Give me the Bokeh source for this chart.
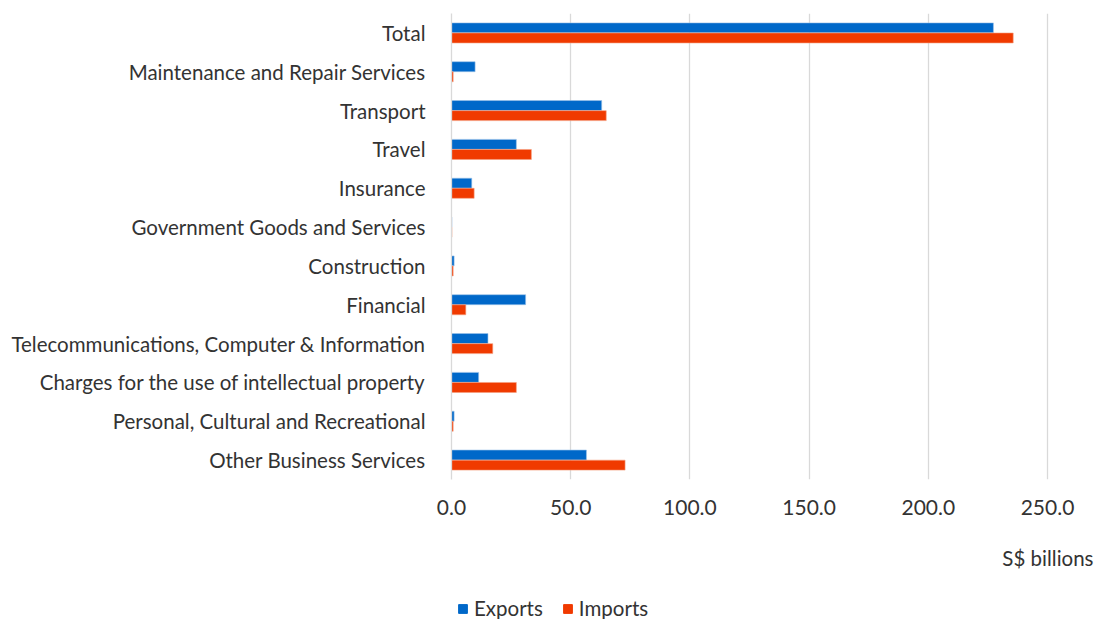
from bokeh.plotting import figure
from bokeh.layouts import column
from bokeh.models import (ColumnDataSource, Legend, LegendItem, Label, FactorRange, Range1d,
                          NumeralTickFormatter, FixedTicker)
from bokeh.transform import dodge
from bokeh.embed import file_html
from bokeh.resources import INLINE

categories = [
    "Total",
    "Maintenance and Repair Services",
    "Transport",
    "Travel",
    "Insurance",
    "Government Goods and Services",
    "Construction",
    "Financial",
    "Telecommunications, Computer & Information",
    "Charges for the use of intellectual property",
    "Personal, Cultural and Recreational",
    "Other Business Services",
]
exports = [227.3, 9.9, 63.0, 27.2, 8.5, 0.2, 1.1, 31.1, 15.3, 11.4, 1.1, 56.6]
imports = [235.6, 0.7, 64.9, 33.5, 9.5, 0.2, 0.7, 6.0, 17.3, 27.2, 0.7, 72.8]
x_ticks = [0, 50, 100, 150, 200, 250]
series_names = ["Exports", "Imports"]
unit_text = "S$ billions"

FONT = "Lato"
TXT = "#333333"
BLUE = "#0068C9"
RED = "#F03A00"

src = ColumnDataSource(dict(cat=categories, exports=exports, imports=imports))

# ---- main chart ----
p = figure(
    width=1099, height=540,
    y_range=FactorRange(factors=list(reversed(categories))),
    x_range=(0, 271.8),
    output_backend="svg", toolbar_location=None,
    min_border_left=451, min_border_top=13, min_border_right=0, min_border_bottom=61,
)
p.outline_line_color = None

p.hbar(y=dodge("cat", 0.13, range=p.y_range), right="exports", left=0, height=0.257,
       source=src, fill_color=BLUE, line_color="#9cc3ea", line_width=0.6)
p.hbar(y=dodge("cat", -0.13, range=p.y_range), right="imports", left=0, height=0.257,
       source=src, fill_color=RED, line_color="#f5a080", line_width=0.6)

p.ygrid.grid_line_color = None
p.xgrid.grid_line_color = "#d9d9d9"
p.xgrid.grid_line_width = 1.3
p.xaxis.ticker = FixedTicker(ticks=x_ticks)
p.xaxis.formatter = NumeralTickFormatter(format="0.0")
p.xaxis.axis_line_color = None
p.xaxis.major_tick_line_color = None
p.xaxis.minor_tick_line_color = None
p.xaxis.major_label_standoff = 14
p.xaxis.major_label_text_font = FONT
p.xaxis.major_label_text_font_size = "21px"
p.xaxis.major_label_text_color = TXT

p.yaxis.axis_line_color = "#d9d9d9"
p.yaxis.axis_line_width = 1.3
p.yaxis.major_tick_line_color = None
p.yaxis.minor_tick_line_color = None
p.yaxis.major_label_standoff = 20
p.yaxis.major_label_text_font = FONT
p.yaxis.major_label_text_font_size = "20.5px"
p.yaxis.major_label_text_color = TXT

# ---- footer: unit label and legend (frame aligned with main chart's frame) ----
f = figure(
    width=1099, height=79,
    x_range=Range1d(0, 1), y_range=Range1d(0, 1),
    x_axis_type=None, y_axis_type=None,
    output_backend="svg", toolbar_location=None,
    min_border_left=0, min_border_top=0, min_border_right=0, min_border_bottom=0,
)
f.outline_line_color = None
f.grid.grid_line_color = None
# swatch-only renderers, placed far outside the footer's visible range in both directions
swatch_src = ColumnDataSource(dict(y=[-50.0], left=[-50.0], right=[-40.0]))
f_exp = f.hbar(y="y", right="right", left="left", height=1, source=swatch_src,
               fill_color=BLUE, line_color=BLUE)
f_imp = f.hbar(y="y", right="right", left="left", height=1, source=swatch_src,
               fill_color=RED, line_color=RED)

f.add_layout(Label(x=642, y=62, x_units="screen", y_units="screen", text=unit_text,
                   text_align="right", text_baseline="middle",
                   text_font=FONT, text_font_size="20.5px", text_color=TXT))

legend = Legend(
    items=[LegendItem(label=series_names[0], renderers=[f_exp]),
           LegendItem(label=series_names[1], renderers=[f_imp])],
    orientation="horizontal", location=(6, -1),
    label_text_font=FONT, label_text_font_size="20.5px", label_text_color=TXT,
    glyph_width=11, glyph_height=11, spacing=19, padding=0, margin=0,
    border_line_color=None, background_fill_alpha=0, label_standoff=6,
)
f.add_layout(legend, "center")

layout = column(p, f, spacing=0)
open("out.html", "w").write(file_html(layout, INLINE))
